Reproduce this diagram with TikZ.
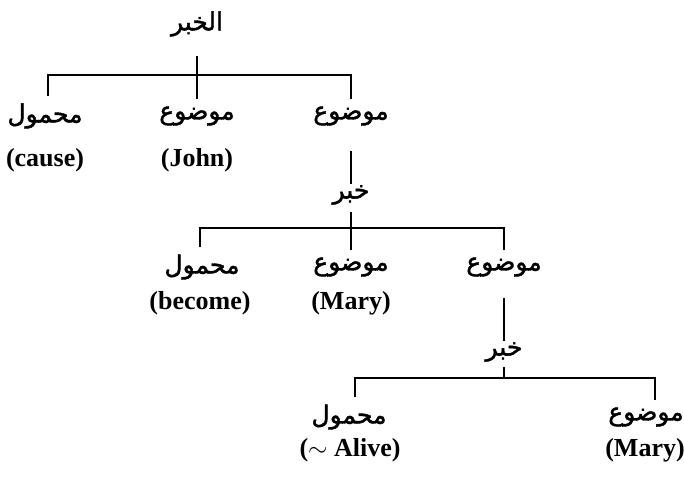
\documentclass[tikz,border=0pt]{standalone}
\usepackage{fontspec}
\setmainfont{Liberation Serif}
\newfontfamily\arabicfont[Script=Arabic,FakeBold=1.6]{DejaVu Sans}
\TeXXeTstate=1
\usetikzlibrary{positioning}

\begin{document}
\begin{tikzpicture}[x=1pt,y=-1pt,line width=1.4pt]
	\tikzstyle{arword}=[inner sep=1pt,font=\arabicfont\fontsize{25}{30}\selectfont]
	\tikzstyle{gloss}=[inner sep=1pt,font=\bfseries\fontsize{26}{30}\selectfont]
	\tikzstyle{branch}=[shorten <=6pt,shorten >=6pt]
	\useasboundingbox (0,0) rectangle (684,480);

	\node[arword](root) at (197,24){\beginR الخبر\endR};

	\node[arword](mahmul_a) at (45,116){\beginR محمول\endR};
	\node[arword](mawdu_a1) at (197,116){\beginR موضوع\endR};
	\node[arword](mawdu_a2) at (351,116){\beginR موضوع\endR};
	\node[gloss](cause) at (45,160){(cause)};
	\node[gloss](john) at (197,160){(John)};

	\node[arword](khabar_b) at (351,195){\beginR خبر\endR};
	\node[arword](mahmul_b) at (202,267){\beginR محمول\endR};
	\node[arword](mawdu_b1) at (351,267){\beginR موضوع\endR};
	\node[arword](mawdu_b2) at (504,267){\beginR موضوع\endR};
	\node[gloss](become) at (200,303){(become)};
	\node[gloss](mary_b) at (351,303){(Mary)};

	\node[arword](khabar_c) at (504,352){\beginR خبر\endR};
	\node[arword](mahmul_c) at (349,417){\beginR محمول\endR};
	\node[arword](mawdu_c) at (646,417){\beginR موضوع\endR};
	\node[gloss](alive) at (350,450){($\sim$ Alive)};
	\node[gloss](mary_c) at (645,450){(Mary)};

	\coordinate (bar_a) at (197,75);
	\coordinate (bar_b) at (351,228);
	\coordinate (bar_c) at (504,378);

	\draw[branch]([xshift=3pt]mahmul_a.north) |- (bar_a) -| (mawdu_a2.north);
	\draw[shorten <=18pt,shorten >=6pt](root) -- (mawdu_a1);
	\draw[shorten <=24pt](mawdu_a2) -- (khabar_b);

	\draw[branch]([xshift=-2pt]mahmul_b.north) |- (bar_b) -| (mawdu_b2.north);
	\draw[shorten <=6pt,shorten >=6pt](khabar_b) -- (mawdu_b1);
	\draw[shorten <=20pt](mawdu_b2) -- (khabar_c);

	\draw[branch]([xshift=6pt]mahmul_c.north) |- (bar_c) -| ([xshift=9pt]mawdu_c.north);
	\draw[shorten <=4pt](khabar_c) -- (bar_c);
\end{tikzpicture}
\end{document}
